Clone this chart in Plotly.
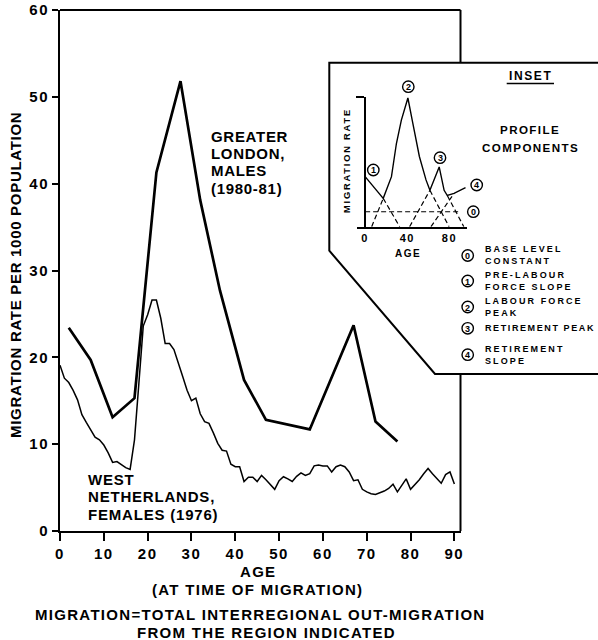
import plotly.graph_objects as go

W, H = 598, 640

# Greater London, males (1980-81): five-year age groups
london_age = [2, 7, 12, 17, 22, 27.5, 32, 36.5, 42, 47, 57, 67, 72, 77]
london_rate = [23.4, 19.7, 13.1, 15.3, 41.3, 51.8, 38.1, 27.7, 17.4, 12.8, 11.7, 23.7, 12.6, 10.3]

# West Netherlands, females (1976): single years of age 0-90
nl_age = list(range(0, 91))
nl_rate = [
    19.1, 17.6, 17.1, 16.2, 15.1, 13.4, 12.5, 11.6, 10.8, 10.5,
    9.9, 9.0, 7.9, 8.0, 7.6, 7.3, 7.1, 10.5, 17.0, 23.6,
    24.9, 26.6, 26.6, 24.5, 21.6, 21.6, 20.9, 19.2, 17.8, 16.2,
    15.0, 15.3, 13.5, 12.6, 12.4, 11.3, 10.1, 9.3, 9.2, 7.7,
    7.4, 7.4, 5.7, 6.2, 6.2, 5.7, 6.4, 5.9, 5.3, 4.8,
    5.8, 6.25, 6.0, 5.7, 6.3, 6.7, 6.4, 6.6, 7.5, 7.6,
    7.5, 7.5, 6.8, 7.4, 7.6, 7.4, 6.8, 5.8, 5.9, 4.8,
    4.5, 4.3, 4.2, 4.4, 4.6, 4.9, 5.4, 4.5, 5.3, 6.0,
    4.8, 5.3, 5.9, 6.6, 7.2, 6.6, 6.0, 5.5, 6.5, 6.8,
    5.4,
]

x_ticks = [0, 10, 20, 30, 40, 50, 60, 70, 80, 90]
y_ticks = [0, 10, 20, 30, 40, 50, 60]

# Schematic model schedule for the inset (arbitrary rate units)
inset_age = [0, 17.2, 25, 29.7, 34.4, 40.6, 45.3, 51.5, 57.8, 61.5, 70.3, 75, 78, 84.4, 95.3]
inset_rate = [3.85, 2.18, 3.85, 6.4, 8.2, 9.9, 7.95, 5.4, 3.6, 2.8, 4.6, 2.8, 2.4, 2.56, 3.0]

# Dashed profile components: (ages, rates)
base_level = ([0, 89], [1.15, 1.15])
pre_labour_tail = ([17.2, 32.8], [2.18, 0])
labour_up = ([6.2, 17.2], [0, 2.18])
labour_down = ([61.5, 79.7], [2.8, 0])
retire_peak_up = ([42.2, 61.5], [0, 2.8])
retire_peak_down = ([78, 93.7], [2.4, 0])
retire_slope = ([62.5, 84.4], [0, 2.56])
inset_ticks = [0, 40, 80]

legend_items = [
    ("0", ["BASE LEVEL", "CONSTANT"]),
    ("1", ["PRE-LABOUR", "FORCE SLOPE"]),
    ("2", ["LABOUR FORCE", "PEAK"]),
    ("3", ["RETIREMENT PEAK"]),
    ("4", ["RETIREMENT", "SLOPE"]),
]

FONT = "Liberation Sans, Arial, sans-serif"


def px(x):
    return x / W


def py(y):
    return 1 - y / H


def spaced(text, ls):
    return '<span style="letter-spacing:{}px">{}</span>'.format(ls, text)


fig = go.Figure()

fig.add_trace(go.Scatter(x=london_age, y=london_rate, mode="lines",
                         line=dict(color="black", width=2.7), xaxis="x", yaxis="y"))
fig.add_trace(go.Scatter(x=nl_age, y=nl_rate, mode="lines",
                         line=dict(color="black", width=1.5), xaxis="x", yaxis="y"))

# inset curve and its components
fig.add_trace(go.Scatter(x=inset_age, y=inset_rate, mode="lines",
                         line=dict(color="black", width=1.4), xaxis="x2", yaxis="y2"))
for ages, rates in [base_level, pre_labour_tail, labour_up, labour_down,
                    retire_peak_up, retire_peak_down, retire_slope]:
    fig.add_trace(go.Scatter(x=ages, y=rates, mode="lines",
                             line=dict(color="black", width=1.2, dash="5px,3px"),
                             xaxis="x2", yaxis="y2"))

shapes = []
# frame top and right (right edge broken by the inset box)
shapes.append(dict(type="line", xref="paper", yref="paper", x0=px(60), x1=px(460.5),
                   y0=py(10), y1=py(10), line=dict(color="black", width=2)))
shapes.append(dict(type="line", xref="paper", yref="paper", x0=px(460.5), x1=px(460.5),
                   y0=py(10), y1=py(62.7), line=dict(color="black", width=2)))
shapes.append(dict(type="line", xref="paper", yref="paper", x0=px(460.5), x1=px(460.5),
                   y0=py(374), y1=py(531), line=dict(color="black", width=2)))
# inset box
path = "M {} {} L {} {} L {} {} L {} {} L {} {}".format(
    px(600), py(62.7), px(329.3), py(62.7), px(329.3), py(250.7),
    px(435), py(374), px(600), py(374))
shapes.append(dict(type="path", xref="paper", yref="paper", path=path,
                   line=dict(color="black", width=2)))
# underline of the inset heading
shapes.append(dict(type="line", xref="paper", yref="paper", x0=px(506.7), x1=px(554),
                   y0=py(83.5), y1=py(83.5), line=dict(color="black", width=1.3)))

annotations = []


def add_text(text, x, y, size, xanchor="left", angle=0, ls=0.0, align="left"):
    if ls:
        text = "<br>".join(spaced(t, ls) for t in text.split("<br>"))
    annotations.append(dict(text=text, x=px(x), y=py(y), xref="paper", yref="paper",
                            showarrow=False, xanchor=xanchor, yanchor="middle",
                            textangle=angle, align=align, borderpad=0,
                            font=dict(family=FONT, size=size, color="black", weight="bold")))


def add_circle(label, cx, cy, r=5.7):
    shapes.append(dict(type="circle", xref="paper", yref="paper",
                       x0=px(cx - r), x1=px(cx + r), y0=py(cy + r), y1=py(cy - r),
                       fillcolor="white", line=dict(color="black", width=1.4)))
    add_text(label, cx, cy + 0.5, 9, xanchor="center")


for i, line in enumerate(["GREATER", "LONDON,", "MALES", "(1980-81)"]):
    add_text(line, 210, 136 + 17.4 * i, 15, ls=0.7)
for i, line in enumerate(["WEST", "NETHERLANDS,", "FEMALES (1976)"]):
    add_text(line, 87, 479.3 + 17.4 * i, 15, ls=0.8)

add_text("MIGRATION RATE PER 1000 POPULATION", 15, 275, 15, xanchor="center",
         angle=-90, ls=0.7)
add_text("AGE", 258, 571, 15, xanchor="center", ls=1.3)
add_text("(AT TIME OF MIGRATION)", 257, 589, 15, xanchor="center", ls=1.3)
add_text("MIGRATION=TOTAL INTERREGIONAL OUT-MIGRATION", 260, 614, 15,
         xanchor="center", ls=1.3)
add_text("FROM THE REGION INDICATED", 266, 632, 15, xanchor="center", ls=1.3)

# inset texts
add_text("INSET", 530.5, 76, 12, xanchor="center", ls=1.6)
add_text("PROFILE", 530, 129, 11.6, xanchor="center", ls=1.4)
add_text("COMPONENTS", 530, 147, 11.6, xanchor="center", ls=1.4)
add_text("MIGRATION RATE", 347, 160, 9.3, xanchor="center", angle=-90, ls=1.8)
add_text("AGE", 408, 253.5, 10, xanchor="center", ls=1.5)

add_circle("1", 373.3, 170)
add_circle("2", 408.3, 86.7)
add_circle("3", 440, 157.7)
add_circle("4", 476.7, 185)
add_circle("0", 473.3, 211.7)

legend_y = [255.5, 281, 307, 328.3, 354.7]
for (num, lines), ly in zip(legend_items, legend_y):
    add_circle(num, 467.7, ly)
    add_text("<br>".join(lines), 484.3, ly, 9, ls=2.1 if len(lines) > 1 else 1.6)

tickfont = dict(family=FONT, size=15, color="black", weight="bold")
fig.update_layout(
    width=W, height=H, autosize=False,
    margin=dict(l=0, r=0, t=0, b=0, autoexpand=False),
    paper_bgcolor="white", plot_bgcolor="rgba(0,0,0,0)",
    showlegend=False,
    shapes=shapes, annotations=annotations,
    xaxis=dict(domain=[px(60), px(460.5)], range=[0, 91.4], anchor="y", automargin=False,
               showline=True, linecolor="black", linewidth=2,
               ticks="outside", ticklen=8, tickwidth=2, tickcolor="black",
               tickvals=x_ticks, ticktext=[spaced(str(v), 1.5) for v in x_ticks],
               tickfont=tickfont, showgrid=False, zeroline=False),
    yaxis=dict(domain=[py(531), py(10)], range=[0, 60], anchor="x", automargin=False,
               showline=True, linecolor="black", linewidth=2,
               ticks="outside", ticklen=6, tickwidth=2, tickcolor="black",
               tickvals=y_ticks, ticktext=[spaced(str(v), 1.5) for v in y_ticks],
               tickfont=tickfont, showgrid=False, zeroline=False),
    xaxis2=dict(domain=[px(356.7), px(467.3)], range=[-8, 97], anchor="y2",
                automargin=False, showline=True, linecolor="black", linewidth=1.6,
                ticks="", tickvals=inset_ticks,
                ticktext=[spaced(str(v), 1.5) for v in inset_ticks],
                tickfont=dict(family=FONT, size=11, color="black", weight="bold"),
                showgrid=False, zeroline=False),
    yaxis2=dict(domain=[py(226.7), py(96.7)], range=[0, 10], anchor="free",
                automargin=False, position=px(365), showline=True, linecolor="black",
                linewidth=1.6, ticks="outside", ticklen=8, tickwidth=1.6,
                tickcolor="black", tickvals=[10], ticktext=[""],
                showgrid=False, zeroline=False),
)

fig.write_html("out.html")
